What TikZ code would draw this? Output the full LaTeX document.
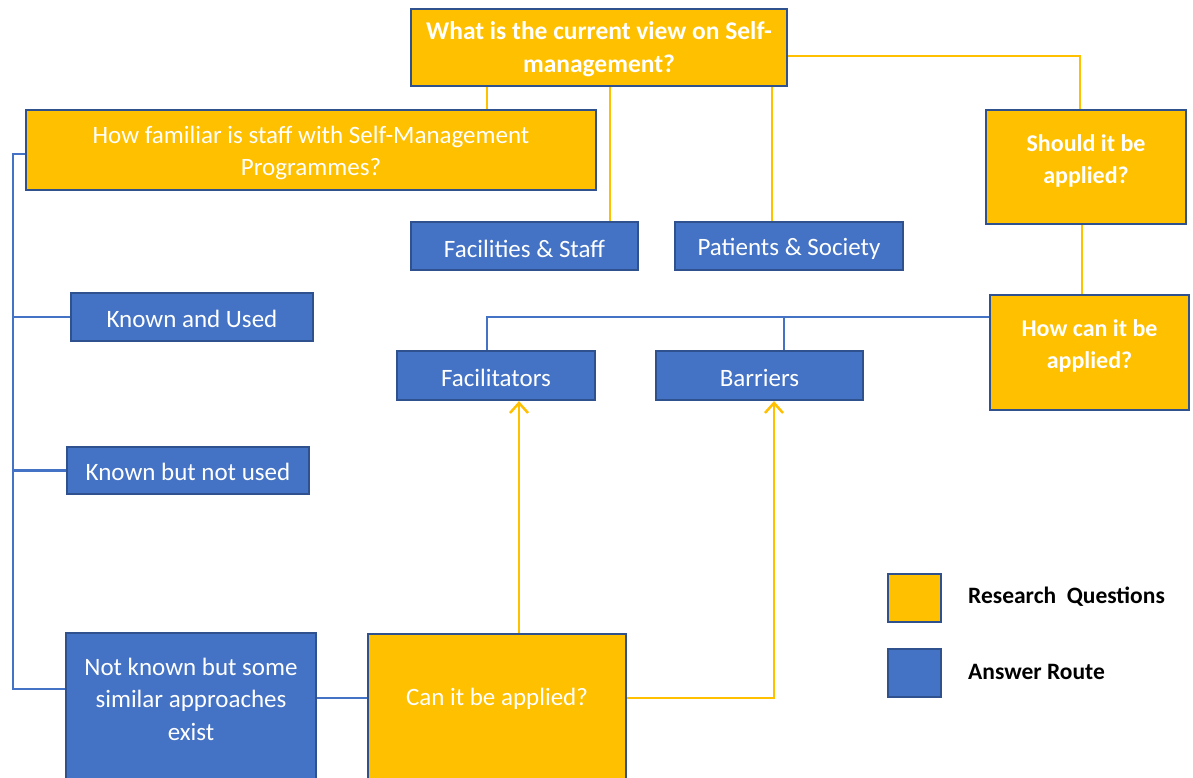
\documentclass[tikz,border=0pt]{standalone}
\usepackage{fontspec}
\setmainfont{Carlito}
\usetikzlibrary{arrows.meta}
\definecolor{yel}{HTML}{FFC000}
\definecolor{blu}{HTML}{4472C4}
\definecolor{bdr}{HTML}{2F528F}
\begin{document}
\begin{tikzpicture}[x=1pt,y=-1pt,
  box/.style={draw=bdr,line width=2.2pt,inner sep=0pt,text=white,align=center,font=\fontsize{25}{32.5}\selectfont},
  ybox/.style={box,fill=yel},
  bbox/.style={box,fill=blu},
  txt/.style={inner sep=0pt,text=white,align=center,font=\fontsize{25}{32.5}\selectfont},
  btxt/.style={txt,font=\fontsize{24}{32.5}\selectfont\bfseries},
  legtxt/.style={inner sep=0pt,anchor=west,text=black,font=\fontsize{23.5}{28}\selectfont\bfseries},
  yl/.style={draw=yel,line width=2.5pt},
  bl/.style={draw=blu,line width=2.5pt},
  arr/.style={yl,-{Straight Barb[length=10pt,width=18pt,line width=2.5pt]}}]
\clip (0,0) rectangle (1193,778);
\fill[white] (0,0) rectangle (1193,778);

% research question boxes
\node[ybox,minimum width=376pt,minimum height=77pt] (top) at (599,47.5) {};
\node[btxt,font=\fontsize{25.5}{32.5}\selectfont\bfseries] (topt) at (599,49) {What is the current view on Self-\\management?};
\node[ybox,minimum width=570pt,minimum height=80pt] (fam) at (311,150) {};
\node[txt] (famt) at (311,153) {How familiar is staff with Self-Management\\Programmes?};
\node[ybox,minimum width=200pt,minimum height=114pt] (should) at (1086,167) {};
\node[btxt] (shouldt) at (1086,161) {Should it be\\applied?};
\node[ybox,minimum width=199pt,minimum height=115pt] (how) at (1089.5,352.5) {};
\node[btxt] (howt) at (1089.5,346) {How can it be\\applied?};
\node[ybox,minimum width=258pt,minimum height=156pt] (can) at (497,712) {};
\node[txt] (cant) at (497,699) {Can it be applied?};

% answer route boxes
\node[bbox,minimum width=227pt,minimum height=48pt] (fac) at (524.5,246) {};
\node[txt] (fact) at (524.5,249) {Facilities \& Staff};
\node[bbox,minimum width=228pt,minimum height=48pt] (pat) at (789,246) {};
\node[txt] (patt) at (789,249) {Patients \& Society};
\node[bbox,minimum width=242pt,minimum height=48pt] (ku) at (192,317) {};
\node[txt] (kut) at (192,319) {Known and Used};
\node[bbox,minimum width=242pt,minimum height=47pt] (knu) at (188,470.5) {};
\node[txt] (knut) at (188,472) {Known but not used};
\node[bbox,minimum width=198pt,minimum height=49pt] (fct) at (496,375.5) {};
\node[txt] (fctt) at (496,378) {Facilitators};
\node[bbox,minimum width=207pt,minimum height=49pt] (bar) at (759.5,375.5) {};
\node[txt] (bart) at (759.5,378) {Barriers};
\node[bbox,minimum width=250pt,minimum height=157pt] (nk) at (191,711.5) {};
\node[txt] (nkt) at (191,699) {Not known but some\\similar approaches\\exist};

% legend
\node[ybox,minimum width=53pt,minimum height=48pt] (legy) at (914.5,598) {};
\node[bbox,minimum width=53pt,minimum height=48pt] (legb) at (914.5,673) {};
\node[legtxt] (legyt) at (968,597) {Research\ \ Questions};
\node[legtxt] (legbt) at (968,672) {Answer Route};

% helper coordinates
\coordinate (x487) at (487,0);
\coordinate (x610) at (610,0);
\coordinate (x772) at (772,0);
\coordinate (tr) at (1080,56);
\coordinate (x1082) at (1082,0);
\coordinate (hb) at (487,317);
\coordinate (x784) at (784,0);
\coordinate (lt) at (13,154);
\coordinate (lb) at (13,689);
\coordinate (y698) at (0,698);
\coordinate (x519) at (519,0);
\coordinate (rb) at (774,698);

% yellow connectors
\draw[yl] (top.south -| x487) -- (fam.north -| x487);
\draw[yl] (top.south -| x610) -- (fac.north -| x610);
\draw[yl] (top.south -| x772) -- (pat.north -| x772);
\draw[yl] (top.east |- tr) -- (tr) -- (should.north -| tr);
\draw[yl] (should.south -| x1082) -- (how.north -| x1082);
\draw[arr] (can.north -| x519) -- (fct.south -| x519);
\draw[arr] (can.east |- rb) -- (rb) -- (bar.south -| rb);

% blue connectors
\draw[bl] (how.west |- hb) -- (hb) -- (fct.north -| hb);
\draw[bl] (hb -| x784) -- (bar.north -| x784);
\draw[bl] (fam.west |- lt) -- (lt) -- (lb) -- (nk.west |- lb);
\draw[bl] (lt |- ku) -- (ku.west);
\draw[bl] (lt |- knu) -- (knu.west);
\draw[bl] (nk.east |- y698) -- (can.west |- y698);
\end{tikzpicture}
\end{document}
